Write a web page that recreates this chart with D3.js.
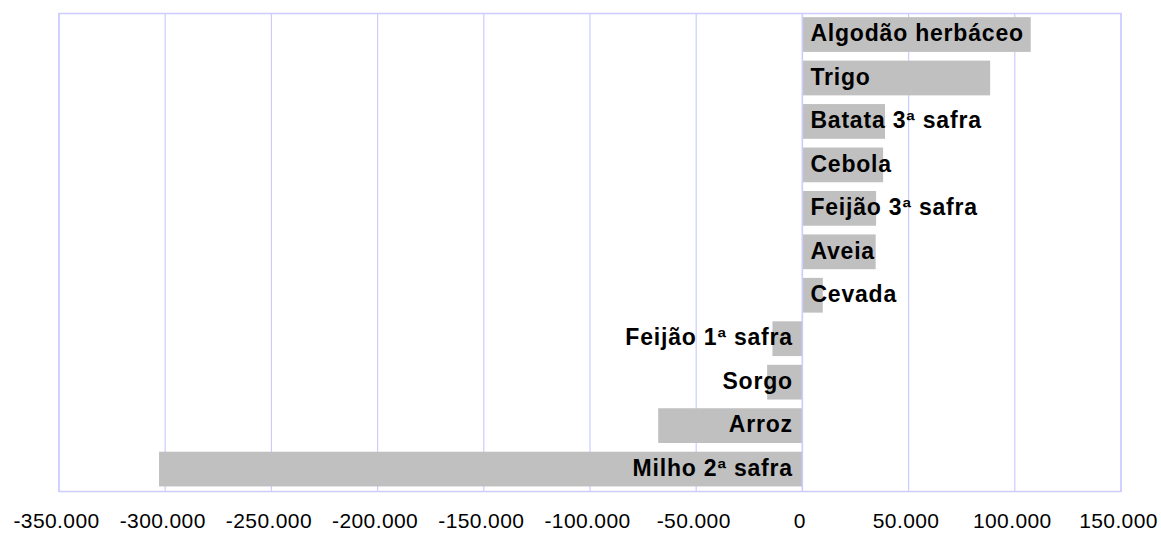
<!DOCTYPE html>
<html>
<head>
<meta charset="utf-8">
<script src="https://cdn.jsdelivr.net/npm/d3@7"></script>
<style>
    html, body { margin: 0; padding: 0; background: #fff; overflow: hidden; }
    svg { display: block; font-family: "Liberation Sans", Arial, sans-serif; }
</style>
</head>
<body>
<div id="chart"></div>
<script>
// crops, top to bottom
var crops = ['Algodão herbáceo', 'Trigo', 'Batata 3ª safra', 'Cebola', 'Feijão 3ª safra', 'Aveia',
    'Cevada', 'Feijão 1ª safra', 'Sorgo', 'Arroz', 'Milho 2ª safra'];
var change = [107500, 88400, 38900, 38000, 34700, 34500, 9600, -14100, -16600, -67900, -302900];
var ticks = [-350000, -300000, -250000, -200000, -150000, -100000, -50000, 0, 50000, 100000, 150000];

var width = 1161,
    height = 533,
    margin = { top: 13.5, right: 40, bottom: 41.5, left: 59 };

var ptBR = d3.formatLocale({ decimal: ',', thousands: '.', grouping: [3], currency: ['R$', ''], minus: '-' });
var fmt = ptBR.format(',.0f');

var svg = d3.select('#chart').append('svg').attr('width', width).attr('height', height);

var x = d3.scaleLinear()
    .domain([-350000, 150000])
    .range([margin.left, width - margin.right]);

var y = d3.scaleBand()
    .domain(crops)
    .range([margin.top, height - margin.bottom])
    .paddingInner(0.2)
    .paddingOuter(0.1);

var grid = svg.append('g');

grid.selectAll('line')
    .data(ticks)
    .enter().append('line')
    .attr('x1', function(d) { return x(d); })
    .attr('x2', function(d) { return x(d); })
    .attr('y1', margin.top)
    .attr('y2', height - margin.bottom)
    .attr('stroke', '#ccccff')
    .attr('stroke-width', 1.2);

grid.append('rect')
    .attr('x', x(-350000))
    .attr('y', margin.top)
    .attr('width', x(150000) - x(-350000))
    .attr('height', height - margin.bottom - margin.top)
    .attr('fill', 'none')
    .attr('stroke', '#ccccff')
    .attr('stroke-width', 1.5);

var rows = crops.map(function(c, i) { return { name: c, value: change[i] }; });

svg.append('g')
    .selectAll('rect')
    .data(rows)
    .enter().append('rect')
    .attr('x', function(d) { return x(Math.min(0, d.value)); })
    .attr('y', function(d) { return y(d.name) - 0.7; })
    .attr('width', function(d) { return Math.abs(x(d.value) - x(0)); })
    .attr('height', y.bandwidth())
    .attr('fill', '#c0c0c0');

// zero line sits on top of the bars
svg.append('line')
    .attr('x1', x(0)).attr('x2', x(0))
    .attr('y1', margin.top).attr('y2', height - margin.bottom)
    .attr('stroke', '#ccccff')
    .attr('stroke-width', 1.5);

svg.append('g')
    .selectAll('text')
    .data(rows)
    .enter().append('text')
    .attr('x', function(d) { return d.value >= 0 ? x(0) + 8 : x(0) - 9.5; })
    .attr('y', function(d) { return y(d.name) + y.bandwidth() / 2 + 6; })
    .attr('text-anchor', function(d) { return d.value >= 0 ? 'start' : 'end'; })
    .attr('font-size', 23)
    .attr('font-weight', 'bold')
    .attr('letter-spacing', 0.8)
    .attr('fill', '#000')
    .text(function(d) { return d.name; });

var axis = d3.axisBottom(x)
    .tickValues(ticks)
    .tickFormat(fmt)
    .tickSize(0)
    .tickPadding(0);

var ax = svg.append('g')
    .attr('transform', 'translate(0,' + (height - margin.bottom) + ')')
    .call(axis);

ax.select('.domain').remove();
ax.selectAll('text')
    .attr('dy', null)
    .attr('y', 36)
    .attr('dx', -3)
    .attr('font-family', '"Liberation Sans", Arial, sans-serif')
    .attr('font-size', 21)
    .attr('letter-spacing', 0.4)
    .attr('fill', '#000');
</script>
</body>
</html>
